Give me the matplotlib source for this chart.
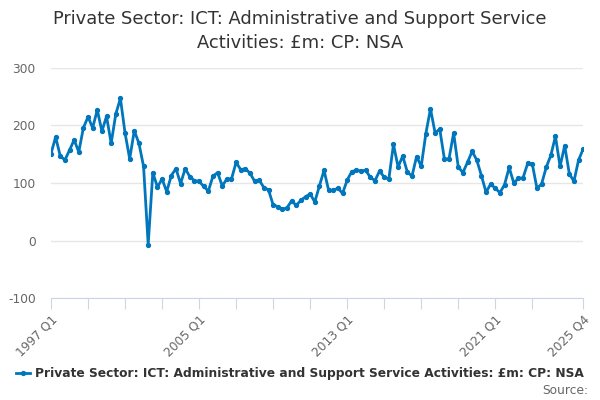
import numpy as np
import matplotlib
matplotlib.use('Agg')
import matplotlib.pyplot as plt
from matplotlib.lines import Line2D

plt.rcParams['axes.unicode_minus'] = False

title = 'Private Sector: ICT: Administrative and Support Service\nActivities: £m: CP: NSA'
series_name = 'Private Sector: ICT: Administrative and Support Service Activities: £m: CP: NSA'

years = list(range(1997, 2026))
quarters = ['%d Q%d' % (y, q) for y in years for q in range(1, 5)]

values = [
    151, 180, 147, 140, 157, 175, 154, 196, 215, 196, 227, 190,
    216, 169, 220, 247, 187, 142, 191, 169, 129, -7, 118, 93,
    107, 85, 113, 125, 99, 125, 111, 104, 103, 94, 86, 112,
    118, 95, 107, 107, 136, 123, 125, 117, 103, 105, 92, 88,
    62, 59, 54, 57, 69, 61, 70, 76, 81, 67, 95, 122,
    87, 87, 91, 82, 105, 120, 122, 121, 122, 110, 104, 121,
    110, 107, 167, 128, 147, 119, 112, 146, 129, 186, 229, 187,
    194, 142, 142, 187, 128, 118, 136, 155, 140, 113, 84, 98,
    91, 83, 97, 127, 100, 108, 109, 134, 133, 91, 98, 127,
    148, 181, 129, 165, 116, 103, 140, 159,
]

label_quarters = ['1997 Q1', '2005 Q1', '2013 Q1', '2021 Q1', '2025 Q4']
y_ticks = [-100, 0, 100, 200, 300]

blue = '#0076bd'
x = np.arange(len(values))

fig = plt.figure(figsize=(6, 4), dpi=100)
ax = fig.add_axes([0.085, 0.255, 0.887, 0.575])

ax.plot(x, values, color=blue, lw=2, marker='o', ms=2.8, zorder=3)

ax.set_ylim(-100, 300)
ax.set_xlim(0, len(values) - 1)
ax.set_yticks(y_ticks)
ax.grid(axis='y', color='#e6e6e6', lw=1)
ax.set_axisbelow(True)

# ticks every 2 years, last one at the end
tick_pos = list(range(0, 105, 8)) + [len(values) - 1]
ax.set_xticks(tick_pos)
ax.set_xticklabels([quarters[i] if quarters[i] in label_quarters else '' for i in tick_pos],
                   rotation=45, ha='right', rotation_mode='anchor')

for s in ['top', 'right', 'left']:
    ax.spines[s].set_visible(False)
ax.spines['bottom'].set_color('#ccd6eb')
ax.tick_params(axis='x', colors='#ccd6eb', length=8, labelcolor='#666666', labelsize=8.8, pad=3)
ax.tick_params(axis='y', length=0, labelcolor='#666666', labelsize=8.8, pad=11)

fig.text(0.5, 0.975, title, ha='center', va='top', fontsize=12.9, color='#333333',
         linespacing=1.4)

handle = Line2D([0], [0], color=blue, lw=2, marker='o', ms=2.8)
fig.legend([handle], [series_name], loc='center', bbox_to_anchor=(0.5, 0.065), frameon=False,
           prop={'weight': 'bold', 'size': 8.8}, labelcolor='#333333',
           handlelength=1.2, handletextpad=0.4)
fig.text(0.98, 0.025, 'Source:', ha='right', va='center', fontsize=8.8, color='#666666')

fig.savefig('out.png', dpi=100)
